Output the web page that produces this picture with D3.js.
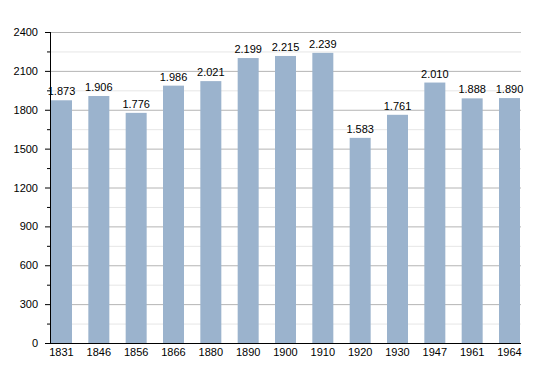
<!DOCTYPE html>
<html><head><meta charset="utf-8">
<script src="https://cdn.jsdelivr.net/npm/d3@7"></script>
<style>body{margin:0;background:#fff}svg{display:block}text{font-family:"Liberation Sans",Arial,sans-serif}</style>
</head><body>
<script>
const years = ["1831","1846","1856","1866","1880","1890","1900","1910","1920","1930","1947","1961","1964"];
const population = [1873,1906,1776,1986,2021,2199,2215,2239,1583,1761,2010,1888,1890];
const yTicks = [0,300,600,900,1200,1500,1800,2100,2400];
const yMinor = [150,450,750,1050,1350,1650,1950,2250];

const W=550,H=373, mLeft=50, mRight=521, mTop=32, mBottom=343;
const svg=d3.select("body").append("svg").attr("width",W).attr("height",H);
const x=d3.scaleBand().domain(years).range([51,520]).paddingInner(0.4375).paddingOuter(0);
const y=d3.scaleLinear().domain([0,2400]).range([mBottom,mTop]);
const fmt=v=>d3.format(",")(v).replace(/,/g,".");

svg.append("g").selectAll("line").data(yMinor).join("line")
 .attr("x1",mLeft).attr("x2",mRight).attr("y1",d=>y(d)+0.5).attr("y2",d=>y(d)+0.5)
 .attr("stroke","#e6e6e6").attr("stroke-width",1);
svg.append("g").selectAll("line").data(yTicks.filter(d=>d>0)).join("line")
 .attr("x1",mLeft).attr("x2",mRight).attr("y1",d=>y(d)+0.5).attr("y2",d=>y(d)+0.5)
 .attr("stroke","#b4b4b4").attr("stroke-width",1);

svg.append("g").selectAll("rect").data(population).join("rect")
 .attr("x",(d,i)=>x(years[i])).attr("width",x.bandwidth())
 .attr("y",d=>y(d)).attr("height",d=>mBottom-y(d)).attr("fill","#9bb3cd");

svg.append("g").selectAll("text").data(population).join("text")
 .attr("x",(d,i)=>x(years[i])+x.bandwidth()/2).attr("y",d=>y(d)-5)
 .attr("text-anchor","middle").attr("font-size",11).attr("fill","#000").text(fmt);

// y axis
const ya=svg.append("g");
ya.append("line").attr("x1",mLeft+0.5).attr("x2",mLeft+0.5).attr("y1",mTop).attr("y2",mBottom).attr("stroke","#000");
ya.selectAll(".maj").data(yTicks).join("line").attr("class","maj")
 .attr("x1",mLeft-5).attr("x2",mLeft).attr("y1",d=>y(d)+0.5).attr("y2",d=>y(d)+0.5).attr("stroke","#000");
ya.selectAll(".min").data(yMinor).join("line").attr("class","min")
 .attr("x1",mLeft-3).attr("x2",mLeft).attr("y1",d=>y(d)+0.5).attr("y2",d=>y(d)+0.5).attr("stroke","#000");
ya.selectAll("text").data(yTicks).join("text")
 .attr("x",38).attr("y",d=>y(d)+4).attr("text-anchor","end").attr("font-size",11).text(d=>d);

// x axis
svg.append("line").attr("x1",mLeft).attr("x2",mRight).attr("y1",mBottom+0.5).attr("y2",mBottom+0.5).attr("stroke","#000");
svg.append("g").selectAll("text").data(years).join("text")
 .attr("x",d=>x(d)+x.bandwidth()/2).attr("y",356).attr("text-anchor","middle").attr("font-size",11).text(d=>d);
</script>
</body></html>
